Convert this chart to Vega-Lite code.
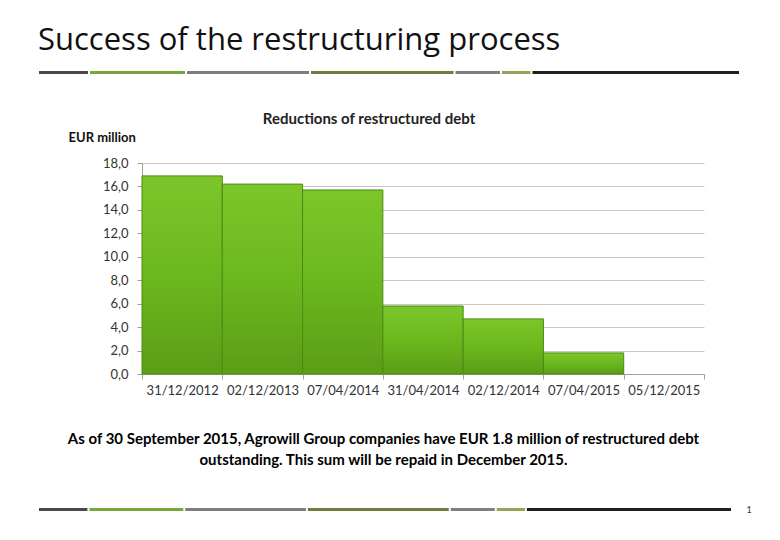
{
  "$schema": "https://vega.github.io/schema/vega-lite/v6.json",
  "background": "white",
  "padding": {"left": 38, "top": 25, "right": 5, "bottom": 5},
  "title": {"text": "Success of the restructuring process", "anchor": "start", "fontSize": 31, "font": "Open Sans", "fontWeight": "normal", "color": "#111111", "offset": 14},
  "spacing": 38,
  "config": {"view": {"stroke": null}, "font": "Lato"},
  "datasets": {
    "segments": [
      {"i": 1, "seg": "s1", "len": 51},
      {"i": 2, "seg": "s2", "len": 97},
      {"i": 3, "seg": "s3", "len": 124},
      {"i": 4, "seg": "s4", "len": 144.5},
      {"i": 5, "seg": "s5", "len": 46.5},
      {"i": 6, "seg": "s6", "len": 30.5},
      {"i": 7, "seg": "s7", "len": 208.5}
    ],
    "debt": [
      {"date": "31/12/2012", "value": 16.9},
      {"date": "02/12/2013", "value": 16.2},
      {"date": "07/04/2014", "value": 15.7},
      {"date": "31/04/2014", "value": 5.8},
      {"date": "02/12/2014", "value": 4.7},
      {"date": "07/04/2015", "value": 1.8},
      {"date": "05/12/2015", "value": 0}
    ]
  },
  "vconcat": [
    {
      "width": 598,
      "height": 3,
      "data": {"name": "segments"},
      "transform": [{"stack": "len", "groupby": [], "sort": [{"field": "i", "order": "ascending"}], "as": ["x0", "x1"]}],
      "mark": {"type": "rect", "xOffset": 1, "x2Offset": -1},
      "encoding": {
        "x": {"field": "x0", "type": "quantitative", "axis": null, "scale": {"domain": [0, 702], "range": [-104, 598], "nice": false, "zero": false}},
        "x2": {"field": "x1"},
        "color": {"field": "seg", "type": "nominal", "legend": null, "scale": {"domain": ["s1", "s2", "s3", "s4", "s5", "s6", "s7"], "range": ["#494949", "#79a53d", "#7d7d7d", "#6f7b40", "#7f7f7f", "#97a158", "#1f1f1f"]}}
      }
    },
    {
      "width": 562,
      "height": 211,
      "data": {"name": "debt"},
      "title": {"text": "Reductions of restructured debt", "fontSize": 15, "fontWeight": "bold", "font": "Lato", "color": "#222222", "anchor": "middle", "dx": -54, "offset": 4},
      "mark": {
        "type": "bar",
        "fill": {"gradient": "linear", "x1": 0, "y1": 0, "x2": 0, "y2": 1, "stops": [{"offset": 0, "color": "#7cc62b"}, {"offset": 0.5, "color": "#6bb81e"}, {"offset": 1, "color": "#5b9d17"}]},
        "stroke": "#4d8a12",
        "strokeWidth": 1
      },
      "encoding": {
        "x": {
          "field": "date", "type": "nominal", "sort": null,
          "scale": {"paddingInner": 0, "paddingOuter": 0},
          "axis": {
            "title": ["As of 30 September 2015, Agrowill Group companies have EUR 1.8 million of restructured debt", "outstanding. This sum will be repaid in December 2015."],
            "titleX": 241, "titleY": 69, "titleAlign": "center", "titleBaseline": "alphabetic", "titleFontSize": 15, "titleFontWeight": "bold", "titleColor": "#000000", "titleLineHeight": 21, "titleFont": "Lato",
            "labelAngle": 0, "labelFontSize": 13, "labelColor": "#333333", "labelPadding": 5, "labelFont": "Lato",
            "tickBand": "extent", "tickSize": 5, "tickColor": "#a0a0a0", "domainColor": "#a0a0a0", "grid": false
          }
        },
        "y": {
          "field": "value", "type": "quantitative",
          "scale": {"domain": [0, 18], "nice": false},
          "axis": {
            "title": "EUR million", "titleAngle": 0, "titleAlign": "left", "titleBaseline": "middle", "titleX": -74, "titleY": -26, "titleFontSize": 13, "titleFontWeight": "bold", "titleColor": "#111111", "titleFont": "Lato",
            "values": [0, 2, 4, 6, 8, 10, 12, 14, 16, 18],
            "labelExpr": "replace(format(datum.value, '.1f'), '.', ',')",
            "labelFontSize": 13, "labelColor": "#333333", "labelPadding": 9, "labelFont": "Lato",
            "tickSize": 5, "tickColor": "#a0a0a0", "domainColor": "#a0a0a0", "grid": true, "gridColor": "#c8c8c8", "minExtent": 104
          }
        },
        "strokeOpacity": {"condition": {"test": "datum.value == 0", "value": 0}, "value": 1}
      }
    },
    {
      "width": 590,
      "height": 3,
      "data": {"name": "segments"},
      "layer": [
        {
          "transform": [{"stack": "len", "groupby": [], "sort": [{"field": "i", "order": "ascending"}], "as": ["x0", "x1"]}],
          "mark": {"type": "rect", "xOffset": 1, "x2Offset": -1},
          "encoding": {
            "x": {"field": "x0", "type": "quantitative", "axis": null, "scale": {"domain": [0, 702], "range": [-104, 590], "nice": false, "zero": false}},
            "x2": {"field": "x1"},
            "color": {"field": "seg", "type": "nominal", "legend": null}
          }
        },
        {
          "transform": [{"aggregate": [{"op": "sum", "field": "len", "as": "total"}]}],
          "mark": {"type": "text", "text": "1", "dx": 17, "fontSize": 9, "color": "#333333", "font": "Lato"},
          "encoding": {"x": {"field": "total", "type": "quantitative"}}
        }
      ]
    }
  ]
}
